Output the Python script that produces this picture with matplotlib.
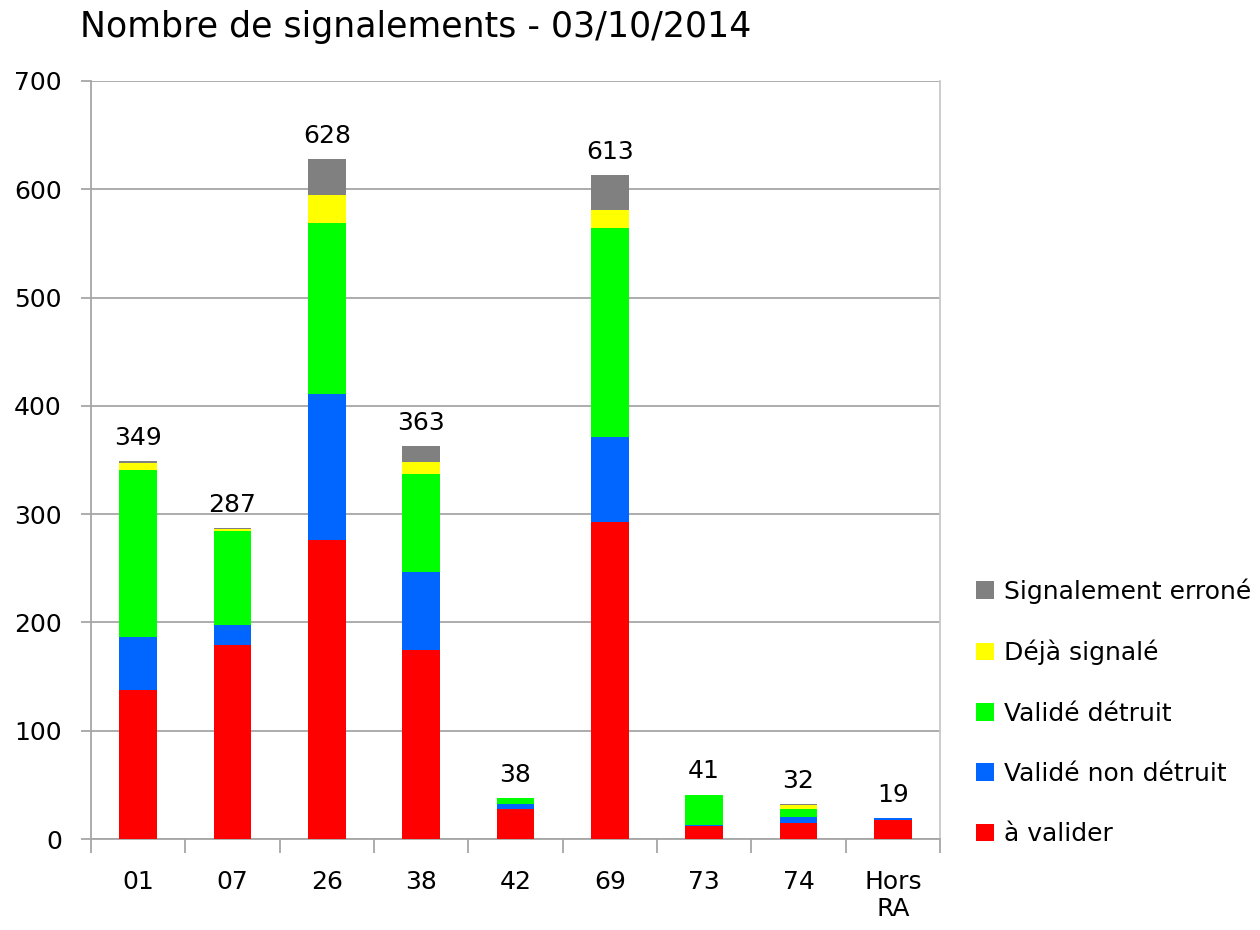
import matplotlib
matplotlib.use("Agg")
import matplotlib.pyplot as plt
import numpy as np

plt.rcParams['font.family'] = ['DejaVu Sans']

# departements et nombre de signalements par statut
departements = ["01", "07", "26", "38", "42", "69", "73", "74", "Hors\nRA"]
a_valider = [138, 179, 276, 175, 28, 293, 12, 15, 18]
valide_non_detruit = [49, 19, 135, 72, 4, 78, 1, 5, 1]
valide_detruit = [154, 86, 158, 90, 6, 193, 28, 8, 0]
deja_signale = [6, 2, 26, 11, 0, 17, 0, 3, 0]
signalement_errone = [2, 1, 33, 15, 0, 32, 0, 1, 0]

series = [
    ("à valider", a_valider, "#ff0000"),
    ("Validé non détruit", valide_non_detruit, "#0066ff"),
    ("Validé détruit", valide_detruit, "#00ff00"),
    ("Déjà signalé", deja_signale, "#ffff00"),
    ("Signalement erroné", signalement_errone, "#808080"),
]

fig = plt.figure(figsize=(12.6, 9.3), dpi=100)
ax = fig.add_axes([91 / 1260, 91 / 930, 849 / 1260, 758 / 930])

x = np.arange(len(departements))
bottom = np.zeros(len(departements))
handles = []
for label, vals, color in series:
    vals = np.array(vals, dtype=float)
    b = ax.bar(x, vals, width=0.4, bottom=bottom, color=color, label=label,
               linewidth=0, zorder=3)
    handles.append(b)
    bottom += vals

# totaux au-dessus des barres
for xi, total in zip(x, bottom):
    ax.annotate(f"{int(total)}", (xi, total), xytext=(0, 8),
                textcoords="offset points", ha="center", va="bottom",
                fontsize=18, color="black")

ax.set_xlim(-0.5, len(departements) - 0.5)
ax.set_ylim(0, 700)
ax.set_yticks(np.arange(0, 701, 100))
ax.yaxis.grid(True, color="#a6a6a6", linewidth=1.3, zorder=0)
ax.set_axisbelow(True)

ax.set_xticks(x)
ax.set_xticklabels(departements)
ax.set_xticks(np.arange(-0.5, len(departements), 1), minor=True)
ax.tick_params(axis="x", which="major", length=0, pad=22, labelsize=18)
ax.tick_params(axis="x", which="minor", length=10, width=1.3, color="#a6a6a6")
ax.tick_params(axis="y", length=7, width=1.3, color="#a6a6a6", pad=14,
               labelsize=18)

for side in ["left", "bottom"]:
    ax.spines[side].set_color("#a6a6a6")
    ax.spines[side].set_linewidth(1.3)
ax.spines["right"].set_color("#c8c8c8")
ax.spines["right"].set_linewidth(1.3)
ax.spines["top"].set_visible(False)

fig.text(80 / 1260, 1 - 27 / 930, "Nombre de signalements - 03/10/2014",
         ha="left", va="center", fontsize=25)

ax.legend(handles[::-1], [s[0] for s in series][::-1],
          loc="center left", bbox_to_anchor=(966 / 1260, 1 - 712 / 930),
          bbox_transform=fig.transFigure, frameon=False, fontsize=18,
          handlelength=0.7, handleheight=0.7, handletextpad=0.4,
          labelspacing=1.45, borderaxespad=0)

fig.savefig("out.png", dpi=100)
